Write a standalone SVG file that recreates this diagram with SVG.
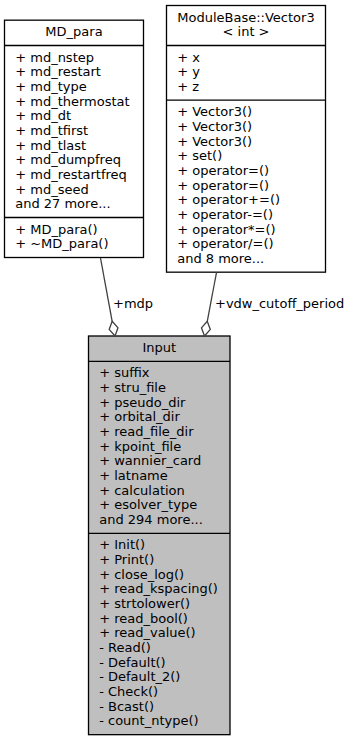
<svg xmlns="http://www.w3.org/2000/svg" width="350" height="741" viewBox="0 0 350 741">
  <style>
    text { font-family: "DejaVu Sans", "Liberation Sans", sans-serif; font-size: 13px; fill: #000000; }
    .title { text-anchor: middle; }
    .box { fill: #ffffff; stroke: #000000; stroke-width: 1.3; }
    .box.current { fill: #bfbfbf; }
    .sep { stroke: #000000; stroke-width: 1.3; fill: none; }
    .edge { stroke: #404040; stroke-width: 1.3; fill: none; }
    .head { stroke: #404040; stroke-width: 1.3; fill: #ffffff; }
    .elabel { fill: #000000; }
  </style>

  <!-- MD_para -->
  <g id="node-md-para">
    <rect class="box" x="4.5" y="20.17" width="139" height="237.33"/>
    <line class="sep" x1="4.5" y1="45.5" x2="143.5" y2="45.5"/>
    <line class="sep" x1="4.5" y1="217.5" x2="143.5" y2="217.5"/>
    <text class="title" x="74" y="36.17">MD_para</text>
    <text x="15.2" y="61.5">+ md_nstep<tspan x="15.2" dy="14.67">+ md_restart</tspan><tspan x="15.2" dy="14.67">+ md_type</tspan><tspan x="15.2" dy="14.67">+ md_thermostat</tspan><tspan x="15.2" dy="14.67">+ md_dt</tspan><tspan x="15.2" dy="14.67">+ md_tfirst</tspan><tspan x="15.2" dy="14.67">+ md_tlast</tspan><tspan x="15.2" dy="14.67">+ md_dumpfreq</tspan><tspan x="15.2" dy="14.67">+ md_restartfreq</tspan><tspan x="15.2" dy="14.67">+ md_seed</tspan><tspan x="15.2" dy="14.67">and 27 more...</tspan></text>
    <text x="15.2" y="233.5">+ MD_para()<tspan x="15.2" dy="14.67">+ ~MD_para()</tspan></text>
  </g>

  <!-- ModuleBase::Vector3< int > -->
  <g id="node-vector3-int">
    <rect class="box" x="166.5" y="5.5" width="159" height="266.67"/>
    <line class="sep" x1="166.5" y1="45.5" x2="325.5" y2="45.5"/>
    <line class="sep" x1="166.5" y1="100.17" x2="325.5" y2="100.17"/>
    <text class="title" x="246" y="21.5">ModuleBase::Vector3</text>
    <text class="title" x="246" y="36.17">&lt; int &gt;</text>
    <text x="177.2" y="61.5">+ x<tspan x="177.2" dy="14.67">+ y</tspan><tspan x="177.2" dy="14.67">+ z</tspan></text>
    <text x="177.2" y="116.17">+ Vector3()<tspan x="177.2" dy="14.67">+ Vector3()</tspan><tspan x="177.2" dy="14.67">+ Vector3()</tspan><tspan x="177.2" dy="14.67">+ set()</tspan><tspan x="177.2" dy="14.67">+ operator=()</tspan><tspan x="177.2" dy="14.67">+ operator=()</tspan><tspan x="177.2" dy="14.67">+ operator+=()</tspan><tspan x="177.2" dy="14.67">+ operator-=()</tspan><tspan x="177.2" dy="14.67">+ operator*=()</tspan><tspan x="177.2" dy="14.67">+ operator/=()</tspan><tspan x="177.2" dy="14.67">and 8 more...</tspan></text>
  </g>

  <!-- Input -->
  <g id="node-input">
    <rect class="box current" x="88.5" y="336" width="141.5" height="398.67"/>
    <line class="sep" x1="88.5" y1="361.33" x2="230" y2="361.33"/>
    <line class="sep" x1="88.5" y1="533.33" x2="230" y2="533.33"/>
    <text class="title" x="159.25" y="352">Input</text>
    <text x="99.2" y="377.33">+ suffix<tspan x="99.2" dy="14.67">+ stru_file</tspan><tspan x="99.2" dy="14.67">+ pseudo_dir</tspan><tspan x="99.2" dy="14.67">+ orbital_dir</tspan><tspan x="99.2" dy="14.67">+ read_file_dir</tspan><tspan x="99.2" dy="14.67">+ kpoint_file</tspan><tspan x="99.2" dy="14.67">+ wannier_card</tspan><tspan x="99.2" dy="14.67">+ latname</tspan><tspan x="99.2" dy="14.67">+ calculation</tspan><tspan x="99.2" dy="14.67">+ esolver_type</tspan><tspan x="99.2" dy="14.67">and 294 more...</tspan></text>
    <text x="99.2" y="549.33">+ Init()<tspan x="99.2" dy="14.67">+ Print()</tspan><tspan x="99.2" dy="14.67">+ close_log()</tspan><tspan x="99.2" dy="14.67">+ read_kspacing()</tspan><tspan x="99.2" dy="14.67">+ strtolower()</tspan><tspan x="99.2" dy="14.67">+ read_bool()</tspan><tspan x="99.2" dy="14.67">+ read_value()</tspan><tspan x="99.2" dy="14.67">- Read()</tspan><tspan x="99.2" dy="14.67">- Default()</tspan><tspan x="99.2" dy="14.67">- Default_2()</tspan><tspan x="99.2" dy="14.67">- Check()</tspan><tspan x="99.2" dy="14.67">- Bcast()</tspan><tspan x="99.2" dy="14.67">- count_ntype()</tspan></text>
  </g>

  <!-- aggregation connectors (open diamond at the Input end) -->
  <g id="connectors">
    <path class="edge" d="M100.5,258 L112.17,321.27"/>
    <polygon class="head" points="115,336 118,327.78 112.17,321.27 109.16,329.48"/>
    <text class="elabel" x="113" y="307.5">+mdp</text>

    <path class="edge" d="M216.5,272.5 L207.26,321.26"/>
    <polygon class="head" points="204.5,336 210.3,329.46 207.26,321.26 201.46,327.8"/>
    <text class="elabel" x="215" y="307.5">+vdw_cutoff_period</text>
  </g>
</svg>
